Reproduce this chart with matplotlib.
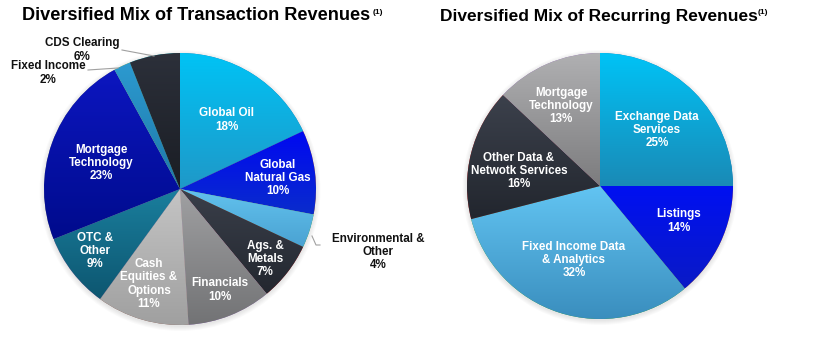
import numpy as np
import matplotlib
matplotlib.use("Agg")
import matplotlib.pyplot as plt
from matplotlib.colors import to_rgb
from matplotlib.patches import Circle

plt.rcParams['font.family'] = ['Liberation Sans', 'DejaVu Sans']

# transaction revenues (left pie), clockwise from 12 o'clock
tx_labels = ["Global Oil", "Global\nNatural Gas", "Environmental &\nOther", "Ags. &\nMetals",
             "Financials", "Cash\nEquities &\nOptions", "OTC &\nOther", "Mortgage\nTechnology",
             "Fixed Income", "CDS Clearing"]
tx_values = [18, 10, 4, 7, 10, 11, 9, 23, 2, 6]

# recurring revenues (right pie)
rc_labels = ["Exchange Data\nServices", "Listings", "Fixed Income Data\n& Analytics",
             "Other Data &\nNetwotk Services", "Mortgage\nTechnology"]
rc_values = [25, 14, 32, 16, 13]

# gradient colours (top, bottom) per slice
tx_colors = [("#00c3f5", "#1f98c8"), ("#0008f2", "#0a2ccc"), ("#62c2ee", "#4aa2d2"),
             ("#3a3f4a", "#23272f"), ("#a0a0a2", "#727375"), ("#c4c4c4", "#a0a0a0"),
             ("#1a7f9e", "#0d5670"), ("#0c16c0", "#000b8c"), ("#2c9ad0", "#1e78a8"),
             ("#2c303a", "#1a1d24")]
rc_colors = [("#00c3f6", "#1a8ab6"), ("#0010f2", "#0a1ac6"), ("#62c4f2", "#3a8ebe"),
             ("#3c414c", "#22262e"), ("#b0b0b2", "#7c7c7e")]

W, H = 828, 343
fig = plt.figure(figsize=(W / 100, H / 100), dpi=100)
ax = fig.add_axes([0, 0, 1, 1])


def gradient_pie(values, colors, center, radius):
    # soft shadow under the pie
    for k in range(5):
        ax.add_patch(Circle((center[0], center[1] - 1.5), radius + 0.5 + k, color='#000000',
                            alpha=0.018, lw=0, zorder=0))
    wedges, _ = ax.pie(values, center=center, radius=radius, startangle=90,
                       counterclock=False, wedgeprops=dict(linewidth=0))
    for w, (c_top, c_bot) in zip(wedges, colors):
        bb = w.get_path().get_extents()
        t = np.linspace(0, 1, 128)[:, None]
        img = (1 - t)[:, :, None] * np.array(to_rgb(c_top)) + t[:, :, None] * np.array(to_rgb(c_bot))
        im = ax.imshow(img, extent=[bb.x0, bb.x1, bb.y0, bb.y1], origin='upper',
                       aspect='auto', interpolation='bilinear', zorder=w.get_zorder() + 0.1)
        im.set_clip_path(w)
    return wedges


gradient_pie(tx_values, tx_colors, (180, H - 189), 136)
gradient_pie(rc_values, rc_colors, (600, H - 186), 133)

ax.set_xlim(0, W)
ax.set_ylim(0, H)
ax.set_aspect('equal')
ax.axis('off')

# inside label positions (pixels from top-left)
tx_inside = {0: (227, 120), 1: (278, 178), 3: (265, 259), 4: (220, 290),
             5: (149, 284), 6: (95, 251), 7: (101, 163)}
tx_outside = {2: (378, 252), 8: (48, 73), 9: (82, 50)}
rc_inside = [(657, 130), (679, 221), (574, 260), (519, 171), (561, 106)]

txt_kw = dict(ha='center', va='center', color='white', fontsize=8.4, fontweight='bold',
              linespacing=1.12, zorder=5)
for i, (x, y) in tx_inside.items():
    ax.text(x, H - y, f"{tx_labels[i]}\n{tx_values[i]}%", **txt_kw)
for i, (x, y) in enumerate(rc_inside):
    ax.text(x, H - y, f"{rc_labels[i]}\n{rc_values[i]}%", **txt_kw)
for i, (x, y) in tx_outside.items():
    ax.text(x, H - y, f"{tx_labels[i]}\n{tx_values[i]}%", ha='center', va='center',
            color='#111111', fontsize=8.4, fontweight='bold', linespacing=1.12, zorder=5)

# leader lines
ax.plot([122, 154], [H - 50, H - 56], color='#a0a0a0', lw=0.8, zorder=4)
ax.plot([88, 118], [H - 70, H - 68], color='#a0a0a0', lw=0.8, zorder=4)
ax.plot([312, 316, 320], [H - 236, H - 245, H - 245], color='#a0a0a0', lw=0.8, zorder=4)

# titles
ax.text(22, H - 16, "Diversified Mix of Transaction Revenues", ha='left', va='center',
        fontsize=13.1, fontweight='bold', color='black')
ax.text(373, H - 12, "(1)", ha='left', va='center', fontsize=6, fontweight='bold')
ax.text(440, H - 16, "Diversified Mix of Recurring Revenues", ha='left', va='center',
        fontsize=12.5, fontweight='bold', color='black')
ax.text(758, H - 12, "(1)", ha='left', va='center', fontsize=6, fontweight='bold')

fig.savefig("out.png", dpi=100, facecolor='white')
